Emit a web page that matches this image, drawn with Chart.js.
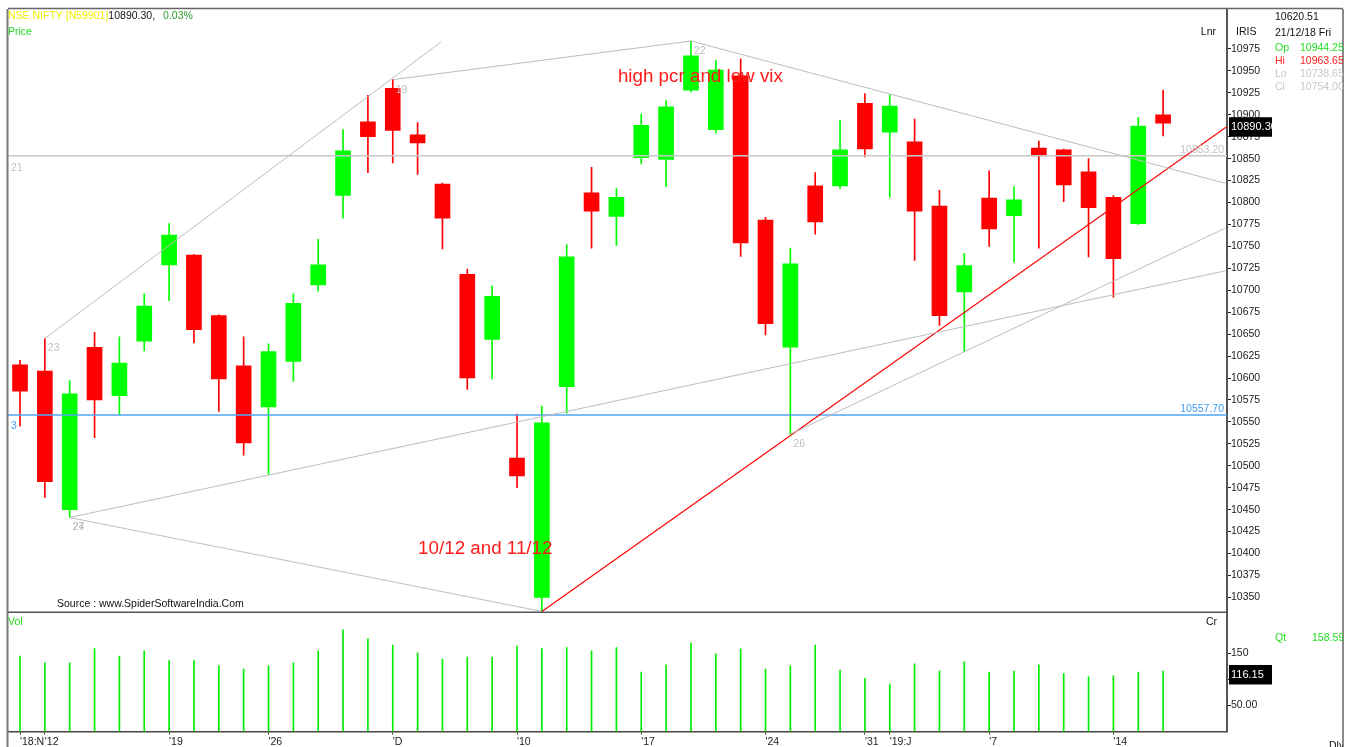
<!DOCTYPE html>
<html>
<head>
<meta charset="utf-8">
<title>NSE NIFTY daily</title>
<script src="https://cdn.jsdelivr.net/npm/chart.js@4.4.1/dist/chart.umd.min.js"></script>
<style>
  html, body { margin: 0; padding: 0; background: #fff; }
  canvas { display: block; }
</style>
</head>
<body>
<canvas id="chart_niftyDaily" width="1353" height="747"></canvas>
<script>
// daily bars, 9 Nov 2018 .. 16 Jan 2019, x = trading day index
var opens  = [10615, 10608, 10450, 10635, 10580, 10642, 10729, 10740, 10671, 10614,
              10567, 10619, 10706, 10808, 10892, 10930, 10877, 10821, 10718, 10644,
              10508.7, 10350, 10590, 10811, 10784, 10851, 10849, 10928, 10883, 10944.25,
              10780, 10635, 10819, 10819, 10913, 10880, 10869, 10796, 10698, 10805,
              10785, 10862, 10860, 10835, 10806, 10776, 10900];
var highs  = [10620, 10645, 10597, 10652, 10647, 10696, 10776, 10741, 10672, 10647,
              10639, 10696, 10758, 10883, 10922, 10940, 10891, 10822, 10724, 10705,
              10559, 10568, 10752, 10840, 10816, 10901, 10916, 10984, 10962, 10963.65,
              10783, 10748, 10834, 10894, 10924, 10923, 10895, 10814, 10742, 10836,
              10818, 10870, 10861, 10850, 10808, 10897, 10928];
var lows   = [10545, 10464, 10441, 10532, 10558, 10631, 10688, 10640, 10562, 10512,
              10490, 10596, 10699, 10782, 10834, 10845, 10832, 10747, 10587, 10599,
              10475, 10334, 10560, 10748, 10751, 10844, 10818, 10926, 10879, 10738.65,
              10649, 10536, 10764, 10816, 10852, 10806, 10734, 10660, 10630, 10750,
              10732, 10748, 10801, 10738, 10692, 10775, 10876];
var closes = [10585, 10482, 10582, 10575, 10617, 10682, 10763, 10655, 10599, 10526,
              10630, 10685, 10729, 10859, 10875, 10882, 10868, 10782, 10600, 10693,
              10488.5, 10549, 10738, 10790, 10806, 10888, 10909, 10967, 10951, 10754,
              10662, 10730, 10778, 10860, 10861, 10910, 10790, 10671, 10728, 10770,
              10803, 10853, 10820, 10794, 10736, 10887, 10890.30];
var volumes = [145, 132, 132, 159, 145, 155, 136, 136, 126, 120,
               126, 132, 155, 195, 178, 166, 151, 139, 143, 143,
               164, 159, 161, 155, 161, 114, 128, 170, 149, 158.59,
               120, 126, 166, 118, 102, 91, 130, 116, 134, 114,
               116, 128, 111, 105, 107, 114, 116.15];

var tickIndex = [0, 1, 6, 10, 15, 20, 25, 30, 34, 35, 39, 44];
var tickText  = ["'18:N", "'12", "'19", "'26", "'D", "'10", "'17", "'24", "'31", "'19:J", "'7", "'14"];
var priceTicks = [10350, 10375, 10400, 10425, 10450, 10475, 10500, 10525, 10550, 10575,
                  10600, 10625, 10650, 10675, 10700, 10725, 10750, 10775, 10800, 10825,
                  10850, 10875, 10900, 10925, 10950, 10975];
var volTicks = [50, 100, 150];
var volTickText = ["50.00", "100", "150"];

// drawn studies: [x1, price1, x2, price2]
var trendLines = [
  [1, 10645, 16.94, 10983],
  [15, 10940, 27, 10984],
  [27, 10984, 48.49, 10822],
  [2, 10441, 21, 10334],
  [2, 10441, 48.49, 10722],
  [31, 10536, 48.49, 10770.6]
];
var supportLine = [21, 10334, 48.56, 10886.4];
var levelGrey = 10853.20;
var levelBlue = 10557.70;
// pivot labels: [x, price, text]
var pivotLabels = [[1, 10645, "23"], [2, 10441, "24"], [2, 10441, "27"],
                   [15, 10940, "19"], [27, 10984, "22"], [31, 10536, "26"]];
// notes: [x, price, text]
var notes = [[24.06, 10943, "high pcr and low vix"], [16.02, 10405, "10/12 and 11/12"]];

var xMin = -0.483, xMax = 48.571;
var FONT = '"Liberation Sans", Arial, sans-serif';
var last = closes.length - 1;

var bodies = [], wicks = [], vols = [], candleColors = [];
for (var i = 0; i < opens.length; i++) {
  bodies.push({x: i, y: [opens[i], closes[i]]});
  wicks.push({x: i, y: [lows[i], highs[i]]});
  vols.push({x: i, y: volumes[i]});
  candleColors.push(closes[i] >= opens[i] ? '#00ff00' : '#ff0000');
}

function segment(t) { return [{x: t[0], y: t[1]}, {x: t[2], y: t[3]}]; }

var datasets = [];
trendLines.forEach(function(t, k) {
  datasets.push({type: 'line', label: 'trend' + k, data: segment(t), yAxisID: 'y',
    borderColor: '#bdbdbd', borderWidth: 1, pointRadius: 0, fill: false, order: 0});
});
datasets.push({type: 'line', label: 'support', data: segment(supportLine), yAxisID: 'y',
  borderColor: '#ff0000', borderWidth: 1.2, pointRadius: 0, fill: false, order: 0});
datasets.push({type: 'line', label: 'level grey', data: segment([xMin, levelGrey, xMax, levelGrey]), yAxisID: 'y',
  borderColor: '#c8c8c8', borderWidth: 1.5, pointRadius: 0, fill: false, order: 0});
datasets.push({type: 'line', label: 'level blue', data: segment([xMin, levelBlue, xMax, levelBlue]), yAxisID: 'y',
  borderColor: '#4fa6f5', borderWidth: 1.5, pointRadius: 0, fill: false, order: 0});
datasets.push({label: 'body', data: bodies, yAxisID: 'y', backgroundColor: candleColors,
  barThickness: 15, grouped: false, borderWidth: 0, order: 2});
datasets.push({label: 'wick', data: wicks, yAxisID: 'y', backgroundColor: candleColors,
  barThickness: 1, grouped: false, borderWidth: 0, order: 3});
datasets.push({label: 'Vol', data: vols, yAxisID: 'yv', backgroundColor: '#00ee00',
  barThickness: 1, grouped: false, borderWidth: 0, order: 2});

function drawText(ctx, str, x, y, color, size, align) {
  ctx.font = size + 'px ' + FONT;
  ctx.fillStyle = color;
  ctx.textAlign = align || 'left';
  ctx.textBaseline = 'middle';
  ctx.fillText(str, x, y);
}
function drawLine(ctx, x1, y1, x2, y2, color, w) {
  ctx.beginPath();
  ctx.strokeStyle = color;
  ctx.lineWidth = w;
  ctx.moveTo(x1, y1);
  ctx.lineTo(x2, y2);
  ctx.stroke();
}

var overlay = {
  id: 'overlay',
  afterDraw: function(chart) {
    var ctx = chart.ctx, area = chart.chartArea;
    var sx = chart.scales.x, sy = chart.scales.y, sv = chart.scales.yv;
    var panelRight = 1343;
    ctx.save();

    // frame
    drawLine(ctx, area.left - 0.5, area.top, area.left - 0.5, chart.height, '#7a7a7a', 2);
    drawLine(ctx, area.left, area.top - 0.5, panelRight, area.top - 0.5, '#666', 1.5);
    drawLine(ctx, area.left, sy.bottom, area.right, sy.bottom, '#555', 1.5);
    drawLine(ctx, panelRight, area.top, panelRight, chart.height, '#8a8a8a', 2);

    // pivot numbers
    pivotLabels.forEach(function(p) {
      drawText(ctx, p[2], sx.getPixelForValue(p[0]) + 3, sy.getPixelForValue(p[1]) + 10, '#c0c0c0', 10.5);
    });
    var yg = sy.getPixelForValue(levelGrey), yb = sy.getPixelForValue(levelBlue);
    drawText(ctx, levelGrey.toFixed(2), area.right - 3, yg - 6, '#c4c4c4', 10.5, 'right');
    drawText(ctx, levelBlue.toFixed(2), area.right - 3, yb - 6, '#3d9cf0', 10.5, 'right');
    drawText(ctx, '21', area.left + 3, yg + 12, '#c4c4c4', 10.5);
    drawText(ctx, '3', area.left + 3, yb + 11, '#3d9cf0', 10.5);

    // notes
    notes.forEach(function(n) {
      drawText(ctx, n[2], sx.getPixelForValue(n[0]), sy.getPixelForValue(n[1]), '#ff1a1a', 18.8);
    });
    drawText(ctx, 'Source : www.SpiderSoftwareIndia.Com', area.left + 49, sy.bottom - 8, '#111', 10.5);

    // header
    ctx.font = '10.5px ' + FONT;
    var hx = area.left;
    drawText(ctx, 'NSE NIFTY [N59901]', hx, 16, '#f2ee00', 10.5);
    hx += ctx.measureText('NSE NIFTY [N59901]').width;
    drawText(ctx, closes[last].toFixed(2) + ',', hx, 16, '#111', 10.5);
    hx += ctx.measureText(closes[last].toFixed(2) + ',').width + 8;
    drawText(ctx, '0.03%', hx, 16, '#2e9b2e', 10.5);
    drawText(ctx, 'Price', area.left, 32, '#22dd22', 10.5);
    drawText(ctx, 'Lnr', area.right - 11, 32, '#111', 10.5, 'right');
    drawText(ctx, 'Vol', area.left, sy.bottom + 10, '#22dd22', 10.5);
    drawText(ctx, 'Cr', area.right - 10, sy.bottom + 10, '#111', 10.5, 'right');

    // right panel
    ctx.save();
    ctx.beginPath();
    ctx.rect(area.right, 0, panelRight - area.right, chart.height);
    ctx.clip();
    var px = area.right + 48, vx = area.right + 73;
    drawText(ctx, 'IRIS', area.right + 9, 32, '#111', 10.5);
    drawText(ctx, '10620.51', px, 17, '#111', 10.5);
    drawText(ctx, '21/12/18 Fri', px, 33, '#111', 10.5);
    drawText(ctx, 'Op', px, 48, '#22dd22', 10.5);
    drawText(ctx, opens[29].toFixed(2), vx, 48, '#22dd22', 10.5);
    drawText(ctx, 'Hi', px, 61, '#ff2020', 10.5);
    drawText(ctx, highs[29].toFixed(2), vx, 61, '#ff2020', 10.5);
    drawText(ctx, 'Lo', px, 74, '#c8c8c8', 10.5);
    drawText(ctx, lows[29].toFixed(2), vx, 74, '#c8c8c8', 10.5);
    drawText(ctx, 'Cl', px, 87, '#c8c8c8', 10.5);
    drawText(ctx, closes[29].toFixed(2), vx, 87, '#c8c8c8', 10.5);
    drawText(ctx, 'Qt', px, sy.bottom + 26, '#22dd22', 10.5);
    drawText(ctx, volumes[29].toFixed(2), area.right + 85, sy.bottom + 26, '#22dd22', 10.5);
    drawText(ctx, 'Dly', area.right + 102, chart.height - 1, '#111', 10.5);

    // last value markers
    var yc = sy.getPixelForValue(closes[last]);
    ctx.fillStyle = '#000';
    ctx.fillRect(area.right + 2, yc - 6, 43, 19.5);
    drawText(ctx, closes[last].toFixed(2), area.right + 4, yc + 4, '#fff', 11);
    var yvc = sv.getPixelForValue(volumes[last]);
    ctx.fillStyle = '#000';
    ctx.fillRect(area.right + 2, yvc - 6, 43, 19.5);
    drawText(ctx, volumes[last].toFixed(2), area.right + 4, yvc + 4, '#fff', 11);
    ctx.restore();

    ctx.restore();
  }
};

var chart_niftyDaily = new Chart(document.getElementById('chart_niftyDaily'), {
  type: 'bar',
  data: { datasets: datasets },
  options: {
    animation: false,
    responsive: false,
    events: [],
    layout: { padding: { left: 8, top: 9, right: 0, bottom: 0 } },
    plugins: {
      legend: { display: false },
      tooltip: { enabled: false }
    },
    scales: {
      x: {
        type: 'linear',
        min: xMin,
        max: xMax,
        offset: false,
        afterBuildTicks: function(scale) {
          scale.ticks = tickIndex.map(function(v) { return {value: v}; });
        },
        afterFit: function(scale) { scale.height = 15.5; },
        ticks: {
          autoSkip: false, maxRotation: 0, minRotation: 0, align: 'start', padding: 1,
          color: '#222', font: { family: FONT, size: 10.5 },
          callback: function(value, index) { return tickText[index]; }
        },
        grid: { offset: false, drawOnChartArea: false, drawTicks: true, tickLength: 3, color: '#333' },
        border: { display: true, color: '#444', width: 1.5 }
      },
      y: {
        type: 'linear',
        position: 'right',
        stack: 'pane',
        stackWeight: 603.3,
        min: 10333,
        max: 11020.5,
        afterBuildTicks: function(scale) {
          scale.ticks = priceTicks.map(function(v) { return {value: v}; });
        },
        afterFit: function(scale) { scale.width = 126; },
        ticks: {
          autoSkip: false, padding: 0, color: '#222', font: { family: FONT, size: 10.5 },
          callback: function(value) { return String(value); }
        },
        grid: { drawOnChartArea: false, drawTicks: true, tickLength: 4, color: '#222' },
        border: { display: true, color: '#555', width: 2 }
      },
      yv: {
        type: 'linear',
        position: 'right',
        stack: 'pane',
        stackWeight: 119.2,
        min: 0,
        max: 228.8,
        afterBuildTicks: function(scale) {
          scale.ticks = volTicks.map(function(v) { return {value: v}; });
        },
        afterFit: function(scale) { scale.width = 126; },
        ticks: {
          autoSkip: false, padding: 0, color: '#222', font: { family: FONT, size: 10.5 },
          callback: function(value, index) { return volTickText[index]; }
        },
        grid: { drawOnChartArea: false, drawTicks: true, tickLength: 4, color: '#222' },
        border: { display: true, color: '#555', width: 2 }
      }
    }
  },
  plugins: [{
    id: 'whiteBackground',
    beforeDraw: function(chart) {
      var ctx = chart.canvas.getContext('2d');
      ctx.save();
      ctx.globalCompositeOperation = 'destination-over';
      ctx.fillStyle = 'white';
      ctx.fillRect(0, 0, chart.canvas.width, chart.canvas.height);
      ctx.restore();
    }
  }, overlay]
});
</script>
</body>
</html>
